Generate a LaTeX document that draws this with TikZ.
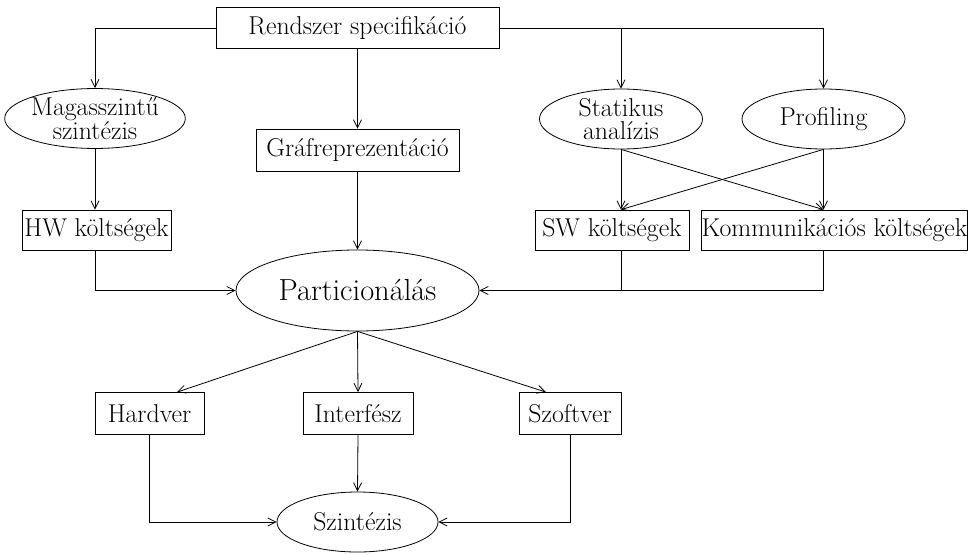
\documentclass[tikz,border=0pt]{standalone}
\usetikzlibrary{arrows.meta,shapes.geometric,calc}
\begin{document}
\begin{tikzpicture}[x=1pt,y=-1pt,
  line width=0.8pt,
  >={Straight Barb[length=8pt,width=8pt]},
  every node/.style={font=\fontsize{25.8}{23}\selectfont, inner sep=0pt, line width=0.8pt},
  boxnode/.style={draw, rectangle},
  ellnode/.style={draw, ellipse, align=center},
  conn/.style={->}]
\useasboundingbox (0,0) rectangle (968,554);

\node[boxnode, minimum width=283pt, minimum height=41pt] (spec) at (357.5,28) {Rendszer specifikáció};
\node[ellnode, minimum width=174pt, minimum height=59pt] (magas) at (95,118.5) {Magasszintű\\szintézis};
\node[boxnode, minimum width=203pt, minimum height=42pt] (graf) at (357.5,150) {Gráfreprezentáció};
\node[ellnode, minimum width=163pt, minimum height=60pt] (stat) at (621,119) {Statikus\\analízis};
\node[ellnode, minimum width=163pt, minimum height=60pt] (prof) at (823.5,119) {Profiling};
\node[boxnode, minimum width=149pt, minimum height=40pt] (hw) at (96.5,230) {HW költségek};
\node[boxnode, minimum width=154pt, minimum height=40pt] (sw) at (612,230) {SW költségek};
\node[boxnode, minimum width=265pt, minimum height=40pt] (komm) at (834.5,230) {Kommunikációs költségek};
\node[ellnode, minimum width=243pt, minimum height=81pt, font=\fontsize{30.5}{30}\selectfont] (part) at (357.5,290.5) {Particionálás};
\node[boxnode, minimum width=109pt, minimum height=42pt] (hard) at (149.5,413.5) {Hardver};
\node[boxnode, minimum width=110pt, minimum height=42pt] (intf) at (358,413.5) {Interfész};
\node[boxnode, minimum width=102pt, minimum height=42pt] (szoft) at (570,413.5) {Szoftver};
\node[ellnode, minimum width=161pt, minimum height=60pt] (szint) at (357.5,522) {Szintézis};

% connection points
\coordinate (swin) at (sw.north -| stat.south);
\coordinate (kin) at (komm.north -| prof.south);
\coordinate (swout) at (sw.south -| stat.south);
\coordinate (kout) at (komm.south -| prof.south);
\coordinate (hin) at ([xshift=27.5pt]hard.north);
\coordinate (sin) at ([xshift=-24pt]szoft.north);

\draw[conn] (spec.west) -| (magas.north);
\draw[conn] (spec.east) -| (prof.north);
\draw[conn] (spec.east -| stat.north) -- (stat.north);
\draw[conn] (spec.south) -- (graf.north);
\draw[conn] (graf.south) -- (part.north);
\draw[conn] (magas.south) -- (magas.south |- hw.north);
\draw[conn] (stat.south) -- (swin);
\draw[conn] (prof.south) -- (swin);
\draw[conn] (prof.south) -- (kin);
\draw[conn] (stat.south) -- (kin);
\draw[conn] (magas.south |- hw.south) |- (part.west);
\draw[conn] (kout) |- (part.east);
\draw (swout) -- (swout |- part.east);
\draw[conn] (part.south) -- (hin);
\draw[conn] (part.south) -- (intf.north);
\draw[conn] (part.south) -- (sin);
\draw[conn] (hard.south) |- (szint.west);
\draw[conn] (intf.south) -- (szint.north);
\draw[conn] (szoft.south) |- (szint.east);
\end{tikzpicture}
\end{document}
